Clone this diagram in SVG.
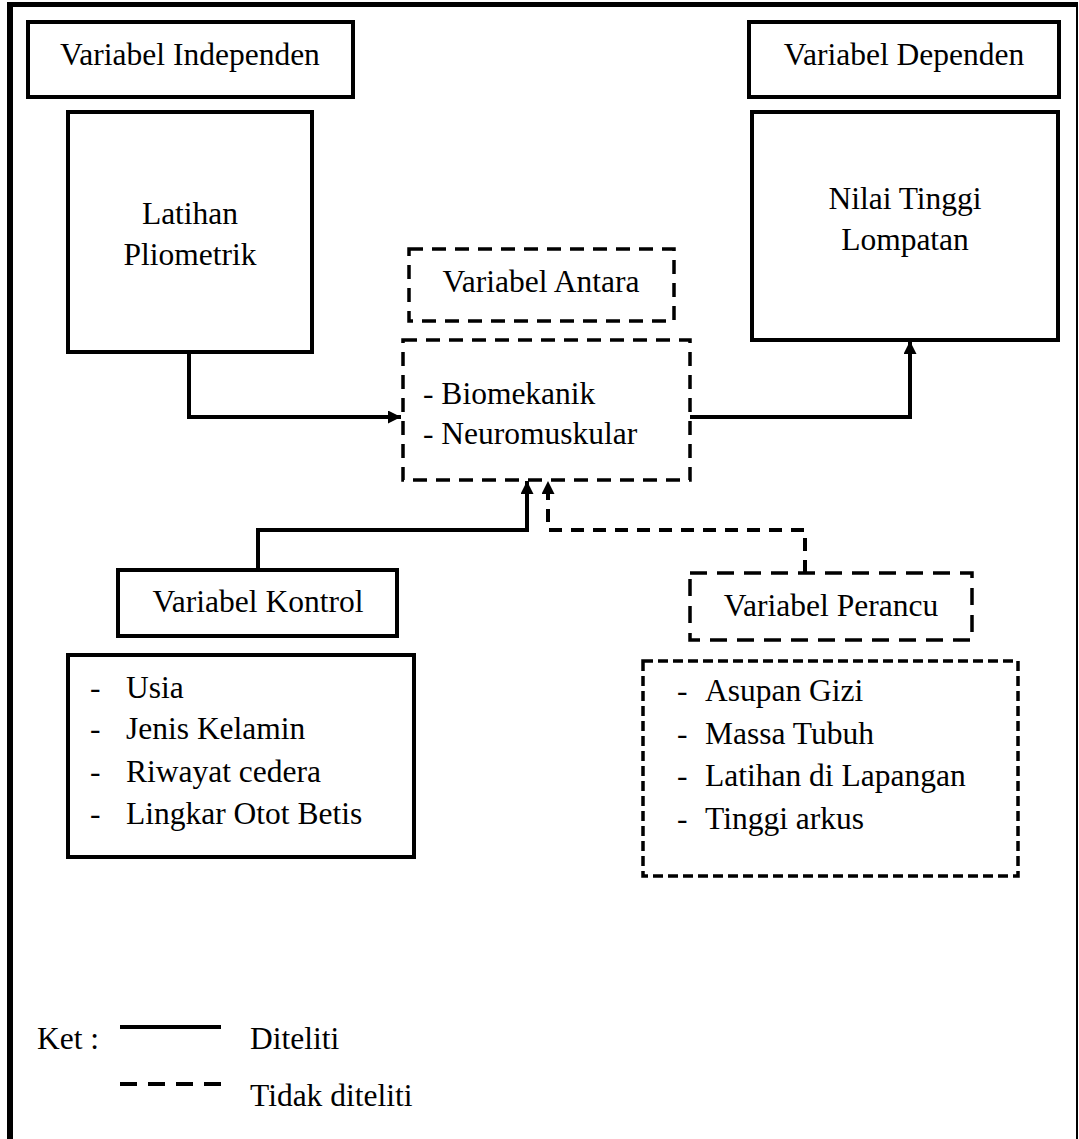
<svg xmlns="http://www.w3.org/2000/svg" width="1079" height="1139" viewBox="0 0 1079 1139">
<defs>
<style>
text{font-family:"Liberation Serif","Times New Roman",serif;font-size:31.5px;fill:#000}
.c{text-anchor:middle}
.box{fill:#fff;stroke:#000;stroke-width:4}
.dbox{fill:#fff;stroke:#000;stroke-width:3.5;stroke-dasharray:14 9}
.dbox3{fill:#fff;stroke:#000;stroke-width:3.5;stroke-dasharray:17 10}
.dbox2{fill:#fff;stroke:#000;stroke-width:3.5;stroke-dasharray:10 5}
.ln{fill:none;stroke:#000;stroke-width:4}
.dln{fill:none;stroke:#000;stroke-width:4;stroke-dasharray:13 9}
</style>
<marker id="ah" viewBox="0 0 10 10" refX="10" refY="5" markerWidth="16" markerHeight="13" markerUnits="userSpaceOnUse" orient="auto">
<path d="M0,0 L10,5 L0,10 z" fill="#000"/>
</marker>
</defs>
<rect width="1079" height="1139" fill="#fff"/>
<g id="frame">
<line x1="10" y1="2" x2="10" y2="1139" stroke="#000" stroke-width="6"/>
<line x1="7" y1="4.5" x2="1078" y2="4.5" stroke="#000" stroke-width="5"/>
<line x1="1077" y1="2" x2="1077" y2="1139" stroke="#000" stroke-width="2"/>
</g>
<g id="connectors">
<path class="ln" d="M189,352 V417 H401" marker-end="url(#ah)"/>
<path class="ln" d="M690,417 H910 V341" marker-end="url(#ah)"/>
<path class="ln" d="M258,570 V530 H527 V481" marker-end="url(#ah)"/>
<path class="dln" d="M805,573 V530 H548 V481" marker-end="url(#ah)"/>
</g>
<g id="independen-label">
<rect class="box" x="28" y="22" width="325" height="75"/>
<text class="c" x="190" y="65">Variabel Independen</text>
</g>
<g id="dependen-label">
<rect class="box" x="749" y="22" width="310" height="75"/>
<text class="c" x="904" y="65">Variabel Dependen</text>
</g>
<g id="latihan">
<rect class="box" x="68" y="112" width="244" height="240"/>
<text class="c" x="190" y="224">Latihan</text>
<text class="c" x="190" y="265">Pliometrik</text>
</g>
<g id="nilai">
<rect class="box" x="752" y="112" width="306" height="228"/>
<text class="c" x="905" y="209">Nilai Tinggi</text>
<text class="c" x="905" y="250">Lompatan</text>
</g>
<g id="antara-label">
<rect class="dbox" x="409" y="249" width="265" height="72"/>
<text class="c" x="541" y="292">Variabel Antara</text>
</g>
<g id="antara">
<rect class="dbox" x="403" y="340" width="287" height="140"/>
<text x="423" y="404">- Biomekanik</text>
<text x="423" y="444">- Neuromuskular</text>
</g>
<g id="kontrol-label">
<rect class="box" x="118" y="570" width="279" height="66"/>
<text class="c" x="258" y="612">Variabel Kontrol</text>
</g>
<g id="kontrol">
<rect class="box" x="68" y="655" width="346" height="202"/>
<text x="90" y="698">-</text><text x="126" y="698">Usia</text>
<text x="90" y="739">-</text><text x="126" y="739">Jenis Kelamin</text>
<text x="90" y="782">-</text><text x="126" y="782">Riwayat cedera</text>
<text x="90" y="824">-</text><text x="126" y="824">Lingkar Otot Betis</text>
</g>
<g id="perancu-label">
<rect class="dbox3" x="690" y="573" width="282" height="67"/>
<text class="c" x="831" y="616">Variabel Perancu</text>
</g>
<g id="perancu">
<rect class="dbox2" x="643" y="661" width="375" height="215"/>
<text x="677" y="701">-</text><text x="705" y="701">Asupan Gizi</text>
<text x="677" y="744">-</text><text x="705" y="744">Massa Tubuh</text>
<text x="677" y="786">-</text><text x="705" y="786">Latihan di Lapangan</text>
<text x="677" y="829">-</text><text x="705" y="829">Tinggi  arkus</text>
</g>
<g id="legend">
<text x="37" y="1049">Ket :</text>
<line x1="120" y1="1027" x2="221" y2="1027" stroke="#000" stroke-width="4"/>
<text x="250" y="1049">Diteliti</text>
<line x1="120" y1="1084" x2="221" y2="1084" stroke="#000" stroke-width="4" stroke-dasharray="17 11"/>
<text x="250" y="1106">Tidak diteliti</text>
</g>
</svg>
